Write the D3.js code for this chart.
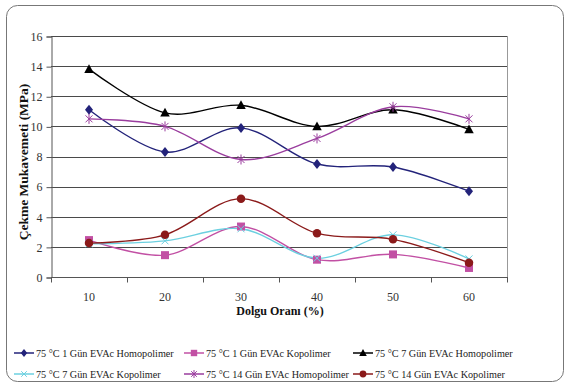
<!DOCTYPE html>
<html>
<head>
<meta charset="utf-8">
<script src="https://cdn.jsdelivr.net/npm/d3@7"></script>
</head>
<body style="margin:0;background:#fff">
<svg id="chart" width="567" height="387" style="display:block;font-family:'Liberation Serif'"></svg>
<script>
// Filler ratio categories (%)
const categories = ["10", "20", "30", "40", "50", "60"];

// Tensile strength (MPa) for each ageing condition
const gun1Homo  = [11.1, 8.3, 9.9, 7.5, 7.3, 5.7];
const gun1Kopo  = [2.45, 1.45, 3.35, 1.15, 1.5, 0.6];
const gun7Homo  = [13.8, 10.9, 11.4, 10.0, 11.1, 9.8];
const gun7Kopo  = [2.2, 2.4, 3.2, 1.25, 2.8, 1.2];
const gun14Homo = [10.5, 10.0, 7.8, 9.2, 11.3, 10.5];
const gun14Kopo = [2.25, 2.8, 5.2, 2.9, 2.5, 0.95];

const seriesNames = [
  "75 °C 1 Gün EVAc Homopolimer",
  "75 °C 1 Gün EVAc Kopolimer",
  "75 °C 7 Gün  EVAc Homopolimer",
  "75 °C 7 Gün  EVAc Kopolimer",
  "75 °C 14 Gün EVAc Homopolimer",
  "75 °C 14 Gün  EVAc Kopolimer"
];
const yTicks = [0, 2, 4, 6, 8, 10, 12, 14, 16];

const series = [
  { name: seriesNames[0], values: gun1Homo,  color: "#23237a", marker: "diamond" },
  { name: seriesNames[1], values: gun1Kopo,  color: "#c250a4", marker: "square" },
  { name: seriesNames[2], values: gun7Homo,  color: "#000000", marker: "triangle" },
  { name: seriesNames[3], values: gun7Kopo,  color: "#6cd0e0", marker: "cross" },
  { name: seriesNames[4], values: gun14Homo, color: "#9a3d9e", marker: "star" },
  { name: seriesNames[5], values: gun14Kopo, color: "#8b1a1a", marker: "circle" }
];

const FONT = "Liberation Serif";
const svg = d3.select("#chart");
const plot = { left: 51, top: 36, right: 507, bottom: 277 };

// Outer rounded frame
svg.append("rect")
  .attr("x", 6.5).attr("y", 5.5).attr("width", 557).attr("height", 376)
  .attr("rx", 11).attr("ry", 11)
  .attr("fill", "#fff").attr("stroke", "#777").attr("stroke-width", 1);

const x = d3.scaleBand().domain(categories).range([plot.left, plot.right]);
const y = d3.scaleLinear().domain([0, 16]).range([plot.bottom, plot.top]);

// Horizontal gridlines
svg.append("g").selectAll("line").data(yTicks.filter(d => d > 0)).join("line")
  .attr("x1", plot.left).attr("x2", plot.right)
  .attr("y1", d => Math.round(y(d)) + 0.5).attr("y2", d => Math.round(y(d)) + 0.5)
  .attr("stroke", "#4a4a4a").attr("stroke-width", 1);

// Right edge of the plot area
svg.append("line")
  .attr("x1", plot.right + 0.5).attr("x2", plot.right + 0.5)
  .attr("y1", plot.top).attr("y2", plot.bottom)
  .attr("stroke", "#999");

// Y axis
const yAxis = svg.append("g")
  .attr("transform", `translate(${plot.left + 0.5},0.5)`)
  .call(d3.axisLeft(y).tickValues(yTicks).tickSize(5).tickPadding(4));
yAxis.attr("font-family", FONT).attr("font-size", 12);
yAxis.select(".domain").attr("stroke", "#555");
yAxis.selectAll(".tick line").attr("stroke", "#555");
yAxis.selectAll("text").attr("fill", "#333");

// X axis: tick marks sit on category boundaries, labels at centres
const xAxisG = svg.append("g").attr("transform", `translate(0,${plot.bottom + 0.5})`);
xAxisG.append("line")
  .attr("x1", plot.left).attr("x2", plot.right + 1)
  .attr("stroke", "#555");
const bounds = categories.map(c => x(c)).concat([plot.right]);
xAxisG.selectAll("line.tk").data(bounds).join("line").attr("class", "tk")
  .attr("x1", d => Math.round(d) + 0.5).attr("x2", d => Math.round(d) + 0.5)
  .attr("y1", 0).attr("y2", 5).attr("stroke", "#555");
xAxisG.selectAll("text").data(categories).join("text")
  .attr("x", d => x(d) + x.bandwidth() / 2)
  .attr("y", 23)
  .attr("text-anchor", "middle")
  .attr("font-family", FONT).attr("font-size", 12)
  .attr("fill", "#333")
  .text(d => d);

// Axis titles
svg.append("text")
  .attr("x", 280).attr("y", 315)
  .attr("text-anchor", "middle")
  .attr("font-family", FONT).attr("font-size", 12).attr("font-weight", "bold")
  .attr("fill", "#111")
  .text("Dolgu Oranı (%)");
svg.append("text")
  .attr("transform", `translate(28,162) rotate(-90)`)
  .attr("text-anchor", "middle")
  .attr("font-family", FONT).attr("font-size", 13.5).attr("font-weight", "bold")
  .attr("fill", "#111")
  .text("Çekme Mukavemeti (MPa)");

// Marker drawing
function drawMarker(g, type, color, size) {
  const s = size;
  switch (type) {
    case "diamond":
      g.append("path").attr("d", `M0,${-s}L${s * 0.8},0L0,${s}L${-s * 0.8},0Z`).attr("fill", color);
      break;
    case "square":
      g.append("rect").attr("x", -s * 0.8).attr("y", -s * 0.8).attr("width", s * 1.6).attr("height", s * 1.6).attr("fill", color);
      break;
    case "triangle":
      g.append("path").attr("d", `M0,${-s}L${s * 0.95},${s * 0.75}L${-s * 0.95},${s * 0.75}Z`).attr("fill", color);
      break;
    case "circle":
      g.append("circle").attr("r", s * 0.85).attr("fill", color);
      break;
    case "cross":
      g.append("path").attr("d", `M${-s * 0.7},${-s * 0.7}L${s * 0.7},${s * 0.7}M${s * 0.7},${-s * 0.7}L${-s * 0.7},${s * 0.7}`)
        .attr("stroke", color).attr("stroke-width", 1).attr("fill", "none");
      break;
    case "star":
      g.append("path").attr("d", `M${-s * 0.7},${-s * 0.7}L${s * 0.7},${s * 0.7}M${s * 0.7},${-s * 0.7}L${-s * 0.7},${s * 0.7}M0,${-s}L0,${s}`)
        .attr("stroke", color).attr("stroke-width", 1).attr("fill", "none");
      break;
  }
}

// Smoothed series lines
const line = d3.line()
  .x((d, i) => x(categories[i]) + x.bandwidth() / 2)
  .y(d => y(d))
  .curve(d3.curveCardinal.tension(0));

series.forEach(s => {
  svg.append("path")
    .datum(s.values)
    .attr("d", line)
    .attr("fill", "none")
    .attr("stroke", s.color)
    .attr("stroke-width", 1.4);
});
series.forEach(s => {
  s.values.forEach((v, i) => {
    const g = svg.append("g")
      .attr("transform", `translate(${x(categories[i]) + x.bandwidth() / 2},${y(v)})`);
    drawMarker(g, s.marker, s.color, 5);
  });
});

// Legend
const legendCols = [14, 184, 353];
const legendRows = [353, 374];
series.forEach((s, i) => {
  const lx = legendCols[i % 3], ly = legendRows[Math.floor(i / 3)];
  const g = svg.append("g").attr("transform", `translate(${lx},${ly})`);
  g.append("line").attr("x1", 0).attr("x2", 20).attr("y1", 0).attr("y2", 0)
    .attr("stroke", s.color).attr("stroke-width", 1.5);
  const m = g.append("g").attr("transform", "translate(10,0)");
  drawMarker(m, s.marker, s.color, 4);
  g.append("text")
    .attr("x", 22).attr("y", 4)
    .attr("font-family", FONT).attr("font-size", 10.2)
    .attr("fill", "#222")
    .text(s.name);
});
</script>
</body>
</html>
